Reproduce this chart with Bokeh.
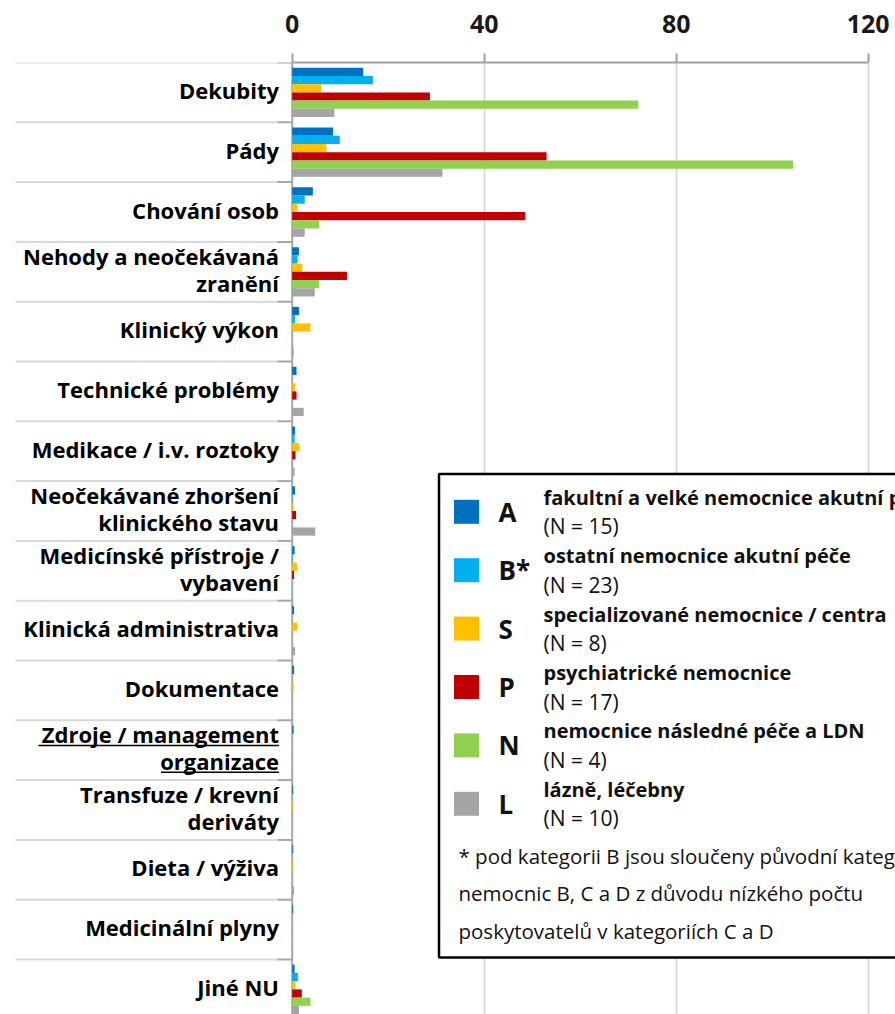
from bokeh.plotting import figure
from bokeh.models import (ColumnDataSource, Range1d, FixedTicker, LinearAxis, Span)
from bokeh.transform import dodge
from bokeh.core.properties import value
from bokeh.embed import file_html
from bokeh.resources import INLINE

# ---------------- data ----------------
categories = [
    "Dekubity", "Pády", "Chování osob", "Nehody a neočekávaná\nzranění",
    "Klinický výkon", "Technické problémy", "Medikace / i.v. roztoky",
    "Neočekávané zhoršení\nklinického stavu", "Medicínské přístroje /\nvybavení",
    "Klinická administrativa", "Dokumentace", "Zdroje / management\norganizace",
    "Transfuze / krevní\nderiváty", "Dieta / výživa", "Medicinální plyny", "Jiné NU",
]
A = [14.8, 8.5, 4.3, 1.4, 1.4, 0.9, 0.6, 0.6, 0.5, 0.4, 0.4, 0.3, 0.2, 0.2, 0.2, 0.5]
B = [16.8, 9.9, 2.6, 1.1, 0.6, 0.0, 0.5, 0.1, 0.1, 0.0, 0.0, 0.0, 0.0, 0.0, 0.0, 1.2]
S = [6.0, 7.1, 1.0, 2.1, 3.8, 0.6, 1.4, 0.2, 1.0, 1.0, 0.3, 0.0, 0.2, 0.2, 0.0, 0.7]
P = [28.7, 53.0, 48.5, 11.4, 0.0, 0.9, 0.7, 0.8, 0.4, 0.0, 0.0, 0.0, 0.0, 0.0, 0.0, 2.0]
N = [72.1, 104.4, 5.6, 5.6, 0.0, 0.0, 0.0, 0.0, 0.0, 0.0, 0.0, 0.0, 0.0, 0.0, 0.0, 3.8]
L = [8.8, 31.3, 2.6, 4.7, 0.3, 2.4, 0.5, 4.8, 0.1, 0.6, 0.0, 0.0, 0.0, 0.4, 0.0, 1.4]

series_keys = ["A", "B*", "S", "P", "N", "L"]
series_cols = ["A", "B", "S", "P", "N", "L"]
series_desc = [
    "fakultní a velké nemocnice akutní péče",
    "ostatní nemocnice akutní péče",
    "specializované nemocnice / centra",
    "psychiatrické nemocnice",
    "nemocnice následné péče a LDN",
    "lázně, léčebny",
]
series_n = [15, 23, 8, 17, 4, 10]
colors = ["#0070C0", "#00B0F0", "#FFC000", "#C00000", "#92D050", "#A5A5A5"]
x_ticks = [0, 40, 80, 120]
footnote = [
    "* pod kategorii B jsou sloučeny původní kategorie",
    "nemocnic B, C a D z důvodu nízkého počtu",
    "poskytovatelů v kategoriích C a D",
]

# ---------------- geometry (pixels in the picture) ----------------
W, H = 895, 1014
ZERO_PX = 291.7      # where value 0 lies
TOP_PX = 62          # top of plotting area
PXU = 4.8            # pixels per x unit
BAND = 59.8          # pixels per category band
n = len(categories)
y_top = n - 0.5
y_bottom = y_top - (H - TOP_PX) / BAND
x_start = -ZERO_PX / PXU
x_end = (W - ZERO_PX) / PXU

FONT_NAME = "Open Sans"
FONT = value(FONT_NAME)


def dx(px):
    return (px - ZERO_PX) / PXU


def dy(py):
    return y_top - (py - TOP_PX) / BAND


centers = [n - 1 - i for i in range(n)]
source = ColumnDataSource(dict(yc=centers, cat=categories, A=A, B=B, S=S, P=P, N=N, L=L))

p = figure(width=W, height=H, output_backend="svg", toolbar_location=None,
           x_range=Range1d(x_start, x_end), y_range=Range1d(y_bottom, y_top),
           x_axis_location=None, y_axis_location=None,
           min_border_left=0, min_border_top=TOP_PX,
           min_border_right=0, min_border_bottom=0)
p.outline_line_color = None
p.background_fill_color = "white"

# grid
p.xgrid.ticker = FixedTicker(ticks=x_ticks[1:])
p.xgrid.grid_line_color = "#D9D9D9"
p.xgrid.grid_line_width = 2
p.ygrid.grid_line_color = None

# vertical axis line at zero
p.add_layout(Span(location=0, dimension="height", line_color="#A6A6A6",
                  line_width=2, level="underlay"))

# top axis
xa = LinearAxis(ticker=FixedTicker(ticks=x_ticks, minor_ticks=[]), bounds=(0, 120))
xa.axis_line_color = "#A0A0A0"
xa.axis_line_width = 2
xa.major_tick_line_color = "#A0A0A0"
xa.major_tick_line_width = 2
xa.major_tick_out = 9
xa.major_tick_in = 0
xa.minor_tick_line_color = None
xa.major_label_standoff = 21
xa.major_label_text_font = FONT_NAME
xa.major_label_text_font_style = "bold"
xa.major_label_text_font_size = "25px"
xa.major_label_text_color = "#1A1A1A"
p.add_layout(xa, "above")

# category separators (light long part + short darker tick by the axis)
boundaries = [c + 0.5 for c in range(-1, n)]
nb = len(boundaries)
p.segment(x0=[dx(15)] * nb, x1=[dx(277)] * nb, y0=boundaries, y1=boundaries,
          line_color="#D9D9D9", line_width=2)
p.segment(x0=[dx(277)] * nb, x1=[0] * nb, y0=boundaries, y1=boundaries,
          line_color="#A6A6A6", line_width=2)

# category labels
p.text(x=dx(278.5), y=dodge("yc", 0.04, range=p.y_range), text="cat", source=source,
       text_font=FONT, text_font_style="bold", text_font_size="22px", text_align="right",
       text_baseline="middle", text_line_height=0.9, text_color="#000000")
# underline of the "Zdroje / management organizace" label (as in the original)
zi = categories.index("Zdroje / management\norganizace")
zc = centers[zi]
p.segment(x0=[dx(38), dx(160.5)], x1=[dx(278.5), dx(278.5)],
          y0=[zc + 0.08, zc - 0.37], y1=[zc + 0.08, zc - 0.37],
          line_color="#000000", line_width=1.5)

# bars
step = 0.1375
for k, (col, c) in enumerate(zip(series_cols, colors)):
    off = (2.5 - k) * step
    p.hbar(y=dodge("yc", off, range=p.y_range), left=0, right=col, height=step,
           color=c, line_color=None, source=source)

# legend box
p.quad(left=[dx(438.5)], right=[dx(930)], top=[dy(473.5)], bottom=[dy(957)],
       fill_color="white", line_color="black", line_width=2.5)

leg_y0, leg_step = 511.3, 58.4
ns = len(series_keys)
sq_y = [dy(leg_y0 + k * leg_step) for k in range(ns)]
p.rect(x=[dx(466)] * ns, y=sq_y, width=25, height=24,
       width_units="screen", height_units="screen", fill_color=colors, line_color=None)
p.text(x=[dx(498)] * ns, y=sq_y, text=series_keys, text_font=FONT,
       text_font_style="bold", text_font_size="26px", text_baseline="middle",
       text_align="left", text_color="#111111")
p.text(x=[dx(543)] * ns,
       y=[dy(leg_y0 + k * leg_step - 14.6) for k in range(ns)],
       text=series_desc, text_font=FONT, text_font_style="bold", text_font_size="20px",
       text_baseline="middle", text_align="left", text_color="#111111")
p.text(x=[dx(543)] * ns,
       y=[dy(leg_y0 + k * leg_step + 14.6) for k in range(ns)],
       text=[f"(N = {v})" for v in series_n], text_font=FONT, text_font_size="21px",
       text_baseline="middle", text_align="left", text_color="#111111")
p.text(x=[dx(458)] * len(footnote), y=[dy(855 + j * 37.5) for j in range(len(footnote))],
       text=footnote, text_font=FONT, text_font_size="20.5px",
       text_baseline="middle", text_align="left", text_color="#111111")

open("out.html", "w").write(file_html(p, INLINE))
